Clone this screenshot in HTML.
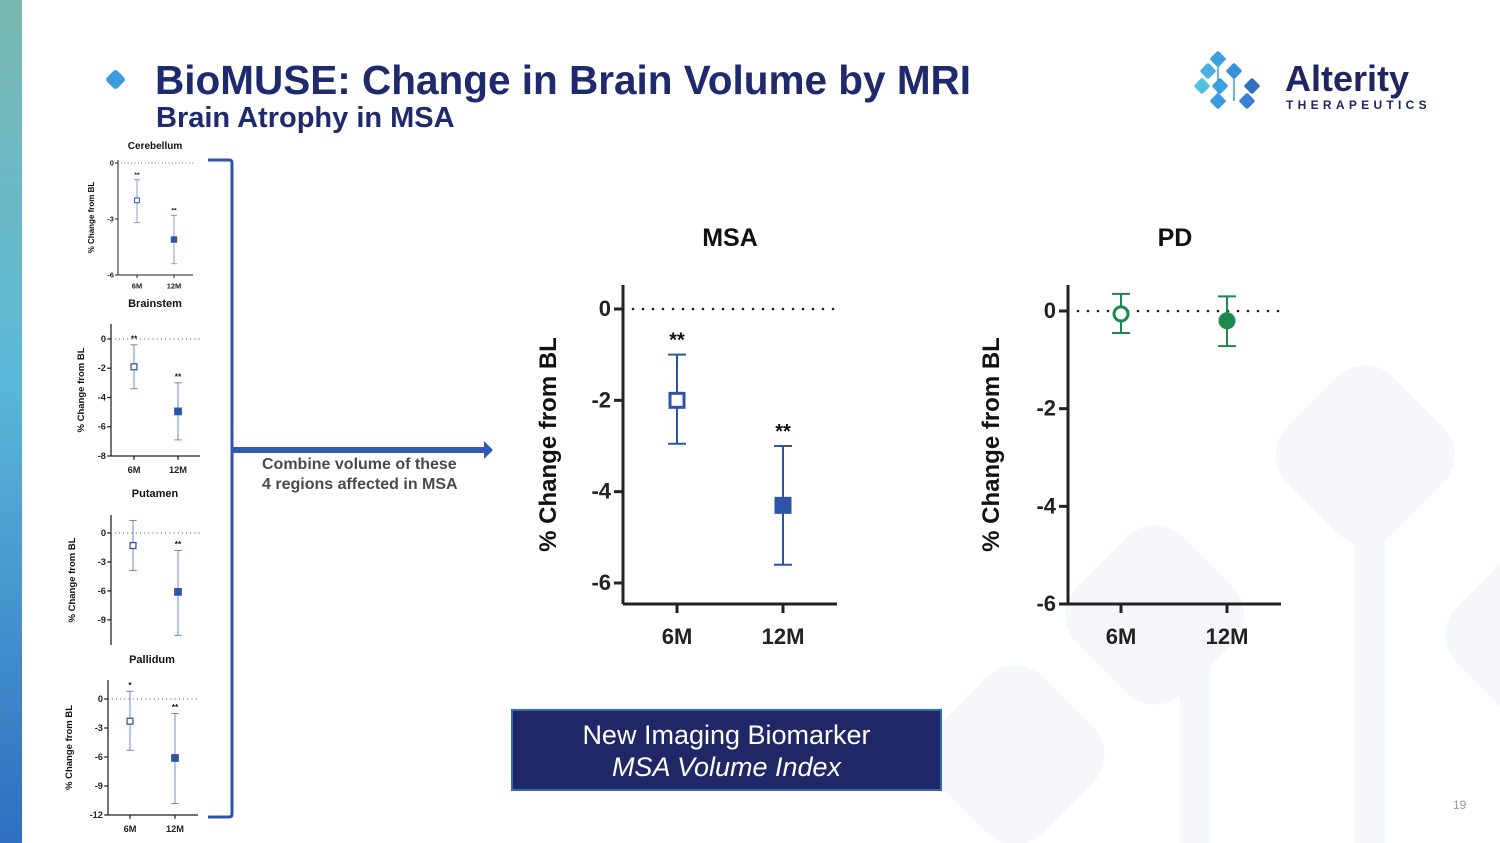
<!DOCTYPE html>
<html><head><meta charset="utf-8">
<style>
html,body{margin:0;padding:0;}
body{width:1500px;height:843px;position:relative;overflow:hidden;background:#fff;font-family:"Liberation Sans",sans-serif;}
.abs{position:absolute;}
</style></head>
<body>
<div class="abs" style="left:0;top:0;width:22px;height:843px;background:linear-gradient(#7bb8b0,#5bb8d8 45%,#2f6ec0);"></div>
<svg class="abs" style="left:0;top:0" width="1500" height="843">
  <g fill="#f5f7fb">
    <rect x="1290" y="380" width="150" height="150" rx="40" transform="rotate(45 1365 455)"/>
    <rect x="1080" y="540" width="150" height="150" rx="40" transform="rotate(45 1155 615)"/>
    <rect x="940" y="680" width="150" height="150" rx="40" transform="rotate(45 1015 755)"/>
    <rect x="1460" y="560" width="150" height="150" rx="40" transform="rotate(45 1535 635)"/>
    <rect x="1180" y="600" width="30" height="243"/>
    <rect x="1355" y="520" width="30" height="323"/>
  </g>
</svg>
<svg class="abs" style="left:100px;top:66px" width="30" height="30"><rect x="8" y="6" width="15" height="15" rx="3" fill="#3a9be0" transform="rotate(45 15.5 13.5)"/></svg>
<div class="abs" style="left:155px;top:57px;font-size:40.5px;font-weight:bold;color:#1f2a6e;">BioMUSE: Change in Brain Volume by MRI</div>
<div class="abs" style="left:156px;top:102px;font-size:29px;font-weight:bold;color:#1f2a6e;">Brain Atrophy in MSA</div>
<svg class="abs" style="left:1192px;top:50px" width="80" height="66">
  <g>
    <rect x="20" y="3" width="12" height="12" rx="2" fill="#3aa0e0" transform="rotate(45 26 9)"/>
    <rect x="10" y="15" width="12" height="12" rx="2" fill="#4ab0e0" transform="rotate(45 16 21)"/>
    <rect x="36" y="15" width="12" height="12" rx="2" fill="#3a90d8" transform="rotate(45 42 21)"/>
    <rect x="4" y="30" width="12" height="12" rx="2" fill="#50c0e0" transform="rotate(45 10 36)"/>
    <rect x="22" y="30" width="12" height="12" rx="2" fill="#3aa0e0" transform="rotate(45 28 36)"/>
    <rect x="54" y="30" width="12" height="12" rx="2" fill="#2f70c0" transform="rotate(45 60 36)"/>
    <rect x="20" y="45" width="12" height="12" rx="2" fill="#3a9ae0" transform="rotate(45 26 51)"/>
    <rect x="49" y="45" width="12" height="12" rx="2" fill="#3a80d0" transform="rotate(45 55 51)"/>
    <g stroke="#3a9ae0" stroke-width="1.5"><line x1="26" y1="15" x2="26" y2="45"/><line x1="42" y1="27" x2="42" y2="51"/></g>
  </g>
</svg>
<div class="abs" style="left:1285px;top:58px;font-size:36px;font-weight:bold;color:#1f2560;">Alterity</div>
<div class="abs" style="left:1286px;top:98px;font-size:12px;font-weight:bold;letter-spacing:4.3px;color:#1f2560;">THERAPEUTICS</div>

<svg id="charts" class="abs" style="left:0;top:0" width="1500" height="843"></svg>

<div class="abs" style="left:262px;top:455px;font-size:16px;font-weight:bold;color:#4a4a4a;line-height:20px;">Combine volume of these<br>4 regions affected in MSA</div>
<div class="abs" style="left:511px;top:709px;width:427px;background:#1f2766;border:2px solid #2e6bb8;color:#fff;text-align:center;font-size:27px;line-height:32px;padding-top:8px;box-sizing:content-box;height:70px;">New Imaging Biomarker<br><i>MSA Volume Index</i></div>
<div class="abs" style="left:1453px;top:798px;font-size:12px;color:#999;">19</div>

<script>
const categories = ["6M","12M"];
const msaMean = [-2.0, -4.3];
const msaHigh = [-1.0, -3.0];
const msaLow = [-2.95, -5.6];
const pdMean = [-0.06, -0.2];
const pdHigh = [0.35, 0.3];
const pdLow = [-0.45, -0.72];
const cerebMean = [-2.0, -4.1];
const cerebHigh = [-0.9, -2.8];
const cerebLow = [-3.2, -5.4];
const brainMean = [-1.9, -4.95];
const brainHigh = [-0.4, -3.0];
const brainLow = [-3.4, -6.9];
const putMean = [-1.3, -6.1];
const putHigh = [1.3, -1.8];
const putLow = [-3.9, -10.6];
const palMean = [-2.3, -6.1];
const palHigh = [0.8, -1.5];
const palLow = [-5.3, -10.8];
const msaTicks = [0,-2,-4,-6];
const pdTicks = [0,-2,-4,-6];
const cerebTicks = [0,-3,-6];
const brainTicks = [0,-2,-4,-6,-8];
const putTicks = [0,-3,-6,-9];
const palTicks = [0,-3,-6,-9,-12];
const msaStars = ["**","**"];
const cerebStars = ["**","**"];
const brainStars = ["**","**"];
const putStars = ["","**"];
const palStars = ["*","**"];

const NS="http://www.w3.org/2000/svg";
const svg=document.getElementById('charts');
function el(tag,attrs,parent){const e=document.createElementNS(NS,tag);for(const k in attrs)e.setAttribute(k,attrs[k]);(parent||svg).appendChild(e);return e;}

function chart(c){
  const g=el('g',{});
  
  
  const y=v=>c.y0+(c.vmax-v)/(c.vmax-c.vmin)*(c.y1-c.y0);
  const x=i=>c.xs[i];
  const s=c.s;
  const t=el('text',{x:c.tx,y:c.ty,'font-size':c.titleSize,'font-weight':'bold','text-anchor':'middle',fill:'#111'},g);t.textContent=c.title;
  
  
  el('line',{x1:c.ax+10*s,x2:c.xEnd,y1:y(0),y2:y(0),stroke:'#222','stroke-width':2.6*s,'stroke-dasharray':'0 '+(10*s),'stroke-linecap':'round'},g);
  const ya=el('line',{x1:c.ax,x2:c.ax,y1:c.axTop,y2:c.y1,stroke:'#222','stroke-width':3*s},g);
  
  
  if(c.xaxis){
    const xa=el('line',{x1:c.ax,x2:c.xEnd,y1:c.y1,y2:c.y1,stroke:'#222','stroke-width':3*s},g);
    
    
  }
  c.ticks.forEach(v=>{
    el('line',{x1:c.ax-9*s,x2:c.ax,y1:y(v),y2:y(v),stroke:'#222','stroke-width':3*s},g);
    const tl=el('text',{x:c.ax-12*s,y:y(v)+7*s,'font-size':22*s,'font-weight':'bold','text-anchor':'end',fill:'#222'},g);
    tl.textContent=String(v);
    
    
  });
  categories.forEach((cat,i)=>{
    if(c.xaxis) el('line',{x1:x(i),x2:x(i),y1:c.y1,y2:c.y1+9*s,stroke:'#222','stroke-width':3*s},g);
    if(c.xlabels){
      const xl=el('text',{x:x(i),y:c.y1+40*s,'font-size':22*s,'font-weight':'bold','text-anchor':'middle',fill:'#222'},g);
      xl.textContent=cat;
      
      
    }
  });
  const yl=el('text',{transform:`translate(${c.ylx},${(c.axTop+c.y1)/2+(c.yShift||0)}) rotate(-90)`,'font-size':c.ylSize,'font-weight':'bold','text-anchor':'middle',fill:'#111'},g);
  yl.textContent='% Change from BL';
  
  
  categories.forEach((cat,i)=>{
    const cap=9*s;
    const eb=el('g',{stroke:c.color,'stroke-width':2*s,opacity:c.op||1},g);
    
    
    el('line',{x1:x(i),x2:x(i),y1:y(c.high[i]),y2:y(c.low[i])},eb);
    el('line',{x1:x(i)-cap,x2:x(i)+cap,y1:y(c.high[i]),y2:y(c.high[i])},eb);
    el('line',{x1:x(i)-cap,x2:x(i)+cap,y1:y(c.low[i]),y2:y(c.low[i])},eb);
    let m;
    if(c.circle){
      m=el('circle',{cx:x(i),cy:y(c.mean[i]),r:7*s,fill:i==0?'#fff':c.color,stroke:c.color,'stroke-width':3*s},g);
    } else {
      const h=i==0?7*s:8*s;
      m=el('rect',{x:x(i)-h,y:y(c.mean[i])-h,width:2*h,height:2*h,fill:i==0?'#fff':c.color,stroke:c.color,'stroke-width':i==0?3*s:1},g);
    }
    
    
    if(c.stars && c.stars[i]){
      const st=el('text',{x:x(i),y:y(c.high[i])-8*s,'font-size':20*s,'font-weight':'bold','text-anchor':'middle',fill:'#111'},g);
      st.textContent=c.stars[i];
      
      
    }
  });
}
chart({name:'msa-chart',title:'MSA',tx:730,ty:246,titleSize:25,s:1,ax:623,axTop:285,y0:309,y1:604,vmax:0,vmin:-6.46,xEnd:837,xs:[677,783],ticks:msaTicks,mean:msaMean,high:msaHigh,low:msaLow,stars:msaStars,color:'#2f53a8',xaxis:true,xlabels:true,ylx:556,ylSize:24,yShift:0});
chart({name:'pd-chart',title:'PD',tx:1175,ty:246,titleSize:25,s:1,ax:1068,axTop:285,y0:311,y1:604,vmax:0,vmin:-6,xEnd:1281,xs:[1121,1227],ticks:pdTicks,mean:pdMean,high:pdHigh,low:pdLow,color:'#1b8a4c',circle:true,xaxis:true,xlabels:true,ylx:999,ylSize:24});
chart({name:'cerebellum-chart',title:'Cerebellum',tx:155,ty:149,titleSize:10,s:0.34,ax:118,axTop:160,y0:163,y1:275,vmax:0,vmin:-6,xEnd:193,xs:[137,174],ticks:cerebTicks,mean:cerebMean,high:cerebHigh,low:cerebLow,stars:cerebStars,color:'#2f53a8',op:0.8,xaxis:true,xlabels:true,ylx:94,ylSize:8});
chart({name:'brainstem-chart',title:'Brainstem',tx:155,ty:307,titleSize:11,s:0.42,ax:111,axTop:324,y0:339,y1:456,vmax:0,vmin:-8,xEnd:200,xs:[134,178],ticks:brainTicks,mean:brainMean,high:brainHigh,low:brainLow,stars:brainStars,color:'#2f53a8',op:0.8,xaxis:true,xlabels:true,ylx:84,ylSize:9.5});
chart({name:'putamen-chart',title:'Putamen',tx:155,ty:497,titleSize:11,s:0.42,ax:111,axTop:515,y0:533,y1:645,vmax:0,vmin:-11.6,xEnd:200,xs:[133,178],ticks:putTicks,mean:putMean,high:putHigh,low:putLow,stars:putStars,color:'#2f53a8',op:0.8,xaxis:false,xlabels:false,ylx:75,ylSize:9.5});
chart({name:'pallidum-chart',title:'Pallidum',tx:152,ty:663,titleSize:11,s:0.42,ax:108,axTop:680,y0:699,y1:815,vmax:0,vmin:-12,xEnd:198,xs:[130,175],ticks:palTicks,mean:palMean,high:palHigh,low:palLow,stars:palStars,color:'#2f53a8',op:0.8,xaxis:true,xlabels:true,ylx:72,ylSize:9.5});

const br=el('path',{d:'M208 160 L229 160 Q232 160 232 163 L232 814 Q232 817 229 817 L208 817',fill:'none',stroke:'#2f53a8','stroke-width':3});


const ar=el('path',{d:'M232 447 L484 447 L484 441 L493 450 L484 459 L484 453 L232 453 Z',fill:'#2f5bb7'});


</script>
</body></html>
